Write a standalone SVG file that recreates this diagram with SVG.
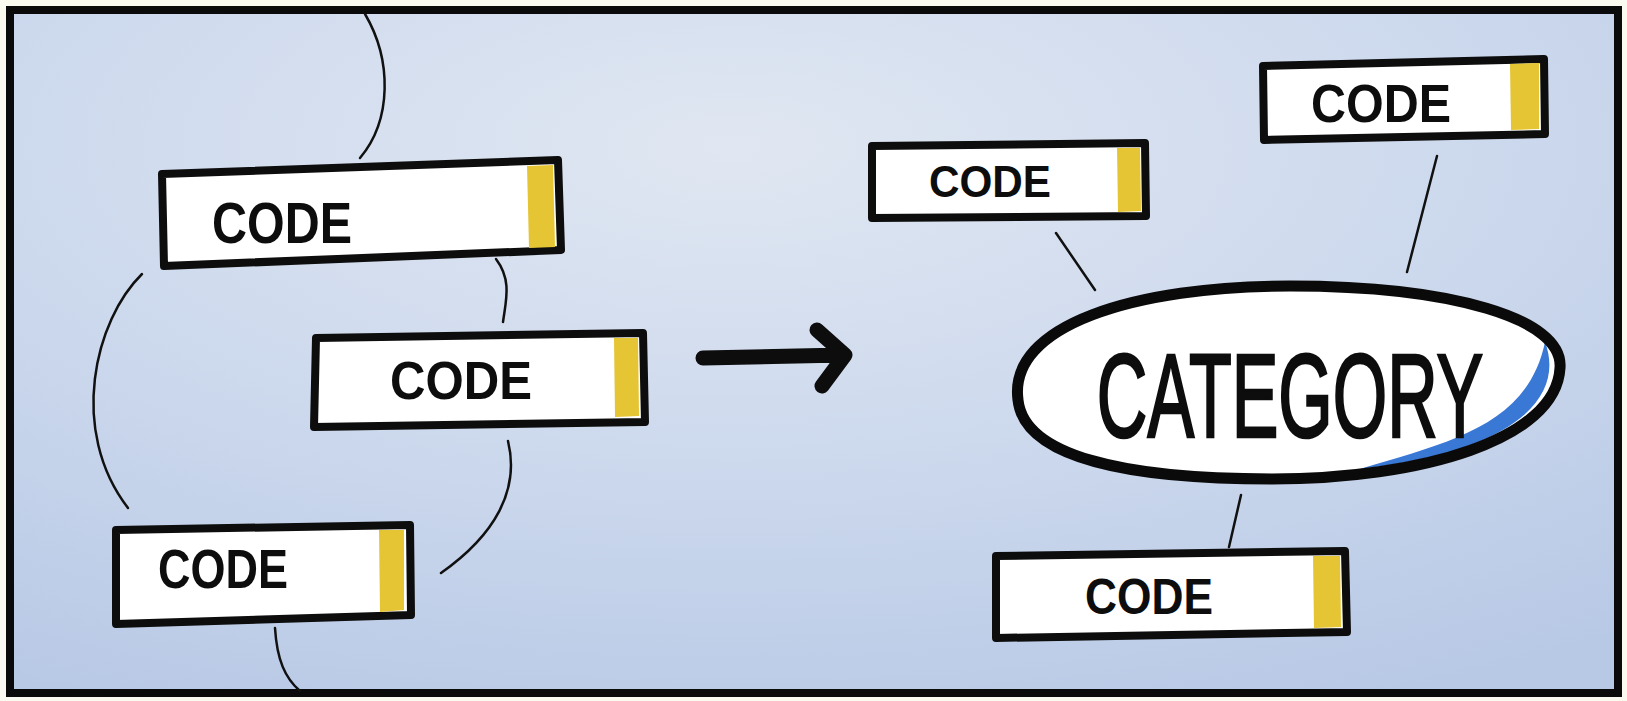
<svg xmlns="http://www.w3.org/2000/svg" width="1627" height="701" viewBox="0 0 1627 701">
  <defs>
    <radialGradient id="bg" cx="0.45" cy="0.2" r="0.9">
      <stop offset="0" stop-color="#e0e7f2"/>
      <stop offset="0.5" stop-color="#cdd9ed"/>
      <stop offset="1" stop-color="#b8c9e6"/>
    </radialGradient>
    <style>
      .box { fill: #ffffff; stroke: #0d0d0d; stroke-width: 8; stroke-linejoin: round; }
      .stripe { fill: #e6c534; }
      .code { font-family: "Liberation Sans", "DejaVu Sans", sans-serif; font-weight: bold; fill: #0d0d0d; }
      .cat { font-family: "Liberation Sans", "DejaVu Sans", sans-serif; font-weight: normal; fill: #0d0d0d; stroke: #0d0d0d; stroke-width: 1.6; }
      .conn { fill: none; stroke: #111111; stroke-width: 2.5; stroke-linecap: round; }
      .arrow { fill: none; stroke: #0d0d0d; stroke-width: 15; stroke-linecap: round; stroke-linejoin: round; }
    </style>
  </defs>

  <rect x="0" y="0" width="1627" height="701" fill="#fbfaf1"/>
  <rect x="10" y="10" width="1608" height="683" fill="url(#bg)" stroke="#0a0a0a" stroke-width="8"/>

  <g id="connectors">
    <path class="conn" d="M365,14 C392,60 392,120 360,158"/>
    <path class="conn" d="M496,259 C512,280 506,300 503,322"/>
    <path class="conn" d="M142,274 C95,320 68,430 128,508"/>
    <path class="conn" d="M508,441 C520,490 495,535 441,573"/>
    <path class="conn" d="M275,628 C277,660 285,678 300,691"/>
    <path class="conn" d="M1056,233 L1095,290"/>
    <path class="conn" d="M1437,156 L1407,272"/>
    <path class="conn" d="M1241,495 L1229,547"/>
    <path class="arrow" d="M703,358 L843,355 M817,330 L845,355 L822,386"/>
  </g>

  <g id="code1">
    <path class="box" d="M162,174 L558,160 L561,250 L164,266 Z"/>
    <path class="stripe" d="M527,166 L553,165 L555,247 L529,248 Z"/>
    <text class="code" x="212" y="243" font-size="58" textLength="140" lengthAdjust="spacingAndGlyphs">CODE</text>
  </g>

  <g id="code2">
    <path class="box" d="M316,338 L643,333 L645,422 L314,427 Z"/>
    <path class="stripe" d="M614,338 L638,338 L639,416 L615,417 Z"/>
    <text class="code" x="390" y="399" font-size="54" textLength="142" lengthAdjust="spacingAndGlyphs">CODE</text>
  </g>

  <g id="code3">
    <path class="box" d="M116,530 L410,525 L411,615 L116,624 Z"/>
    <path class="stripe" d="M379,530 L404,530 L404,610 L380,612 Z"/>
    <text class="code" x="158" y="588" font-size="55" textLength="130" lengthAdjust="spacingAndGlyphs">CODE</text>
  </g>

  <g id="code4">
    <path class="box" d="M872,146 L1145,143 L1146,216 L872,218 Z"/>
    <path class="stripe" d="M1117,148 L1140,148 L1141,211 L1118,212 Z"/>
    <text class="code" x="929" y="197" font-size="44" textLength="122" lengthAdjust="spacingAndGlyphs">CODE</text>
  </g>

  <g id="code5">
    <path class="box" d="M1263,66 L1544,59 L1545,134 L1264,140 Z"/>
    <path class="stripe" d="M1510,64 L1539,63 L1539,129 L1511,130 Z"/>
    <text class="code" x="1311" y="122" font-size="54" textLength="140" lengthAdjust="spacingAndGlyphs">CODE</text>
  </g>

  <g id="code6">
    <path class="box" d="M996,556 L1345,551 L1347,632 L996,638 Z"/>
    <path class="stripe" d="M1313,556 L1340,556 L1341,627 L1314,628 Z"/>
    <text class="code" x="1085" y="614" font-size="50" textLength="128" lengthAdjust="spacingAndGlyphs">CODE</text>
  </g>

  <g id="category">
    <path d="M1018,400 C1008,325 1135,286 1290,286 C1450,286 1564,318 1560,368 C1556,440 1420,479 1272,479 C1120,479 1024,455 1018,400 Z" fill="#ffffff"/>
    <path d="M1545,342 C1564,392 1525,450 1360,469 C1450,442 1528,425 1545,342 Z" fill="#3a78d6"/>
    <path d="M1018,400 C1008,325 1135,286 1290,286 C1450,286 1564,318 1560,368 C1556,440 1420,479 1272,479 C1120,479 1024,455 1018,400 Z" fill="none" stroke="#0a0a0a" stroke-width="11" stroke-linejoin="round"/>
    <text class="cat" x="0" y="0" font-size="70" text-anchor="middle" transform="translate(1290,437) scale(1,1.7)">CATEGORY</text>
  </g>
</svg>
